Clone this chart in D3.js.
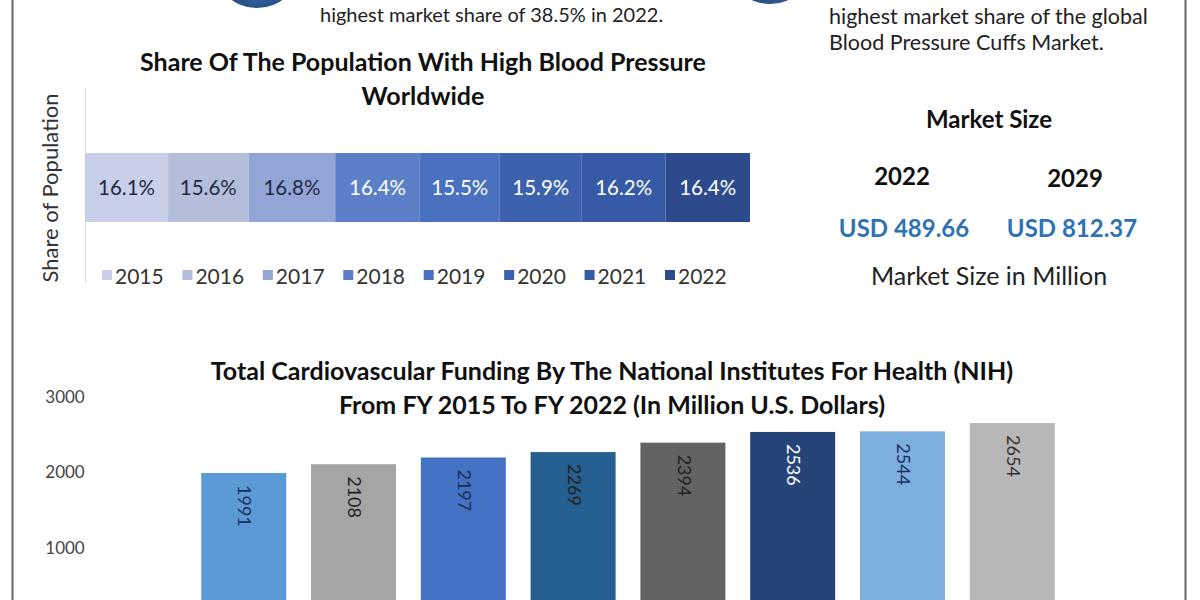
<!DOCTYPE html>
<html><head><meta charset="utf-8">
<script src="https://cdn.jsdelivr.net/npm/d3@7"></script>
<style>
html,body{margin:0;padding:0;background:#fff;}
svg{display:block;font-family:Lato,"Open Sans",sans-serif;}
</style></head>
<body><svg id="c" width="1200" height="600"></svg>
<script>
// ---- data ----
const shareYears = ["2015","2016","2017","2018","2019","2020","2021","2022"];
const shareValues = [16.1,15.6,16.8,16.4,15.5,15.9,16.2,16.4];
const shareColors = ["#c9cfe8","#b4bdd9","#93a4d6","#5b80c8","#4a70c0","#3d62ad","#365aa5","#2d4a8c"];
const shareLabelColors = ["#1f2a44","#1f2a44","#1f2a44","#ffffff","#ffffff","#ffffff","#ffffff","#ffffff"];

const fundYears = ["FY2015","FY2016","FY2017","FY2018","FY2019","FY2020","FY2021","FY2022"];
const fundValues = [1991,2108,2197,2269,2394,2536,2544,2654];
const fundColors = ["#5b9bd5","#a5a5a5","#4472c4","#255e91","#636363","#264478","#7cafdd","#b7b7b7"];
const fundLabelColors = ["#1b2f5c","#222","#1b2f5c","#222","#222","#ffffff","#1b2f5c","#333"];
const fundTicks = [1000,2000,3000];

const marketYears = ["2022","2029"];
const marketValues = ["USD 489.66","USD 812.37"];

const svg = d3.select("#c");

// frame lines
svg.append("line").attr("x1",12.5).attr("x2",12.5).attr("y1",0).attr("y2",600).attr("stroke","#666").attr("stroke-width",2);
svg.append("line").attr("x1",1185.5).attr("x2",1185.5).attr("y1",0).attr("y2",600).attr("stroke","#666").attr("stroke-width",2);

// top icons (cut circles)
const defs = svg.append("defs");
const g1 = defs.append("radialGradient").attr("id","icon").attr("cx","50%").attr("cy","70%").attr("r","60%");
g1.append("stop").attr("offset","0%").attr("stop-color","#3a6aa8");
g1.append("stop").attr("offset","100%").attr("stop-color","#1c3d70");
svg.append("circle").attr("cx",257).attr("cy",-36).attr("r",44).attr("fill","url(#icon)");
svg.append("circle").attr("cx",770).attr("cy",-40).attr("r",44).attr("fill","url(#icon)");

// top texts
svg.append("text").attr("x",320).attr("y",22).attr("font-size",20).attr("fill","#222")
  .text("highest market share of 38.5% in 2022.");
svg.append("text").attr("x",829).attr("y",24).attr("font-size",21.5).attr("fill","#222")
  .text("highest market share of the global");
svg.append("text").attr("x",829).attr("y",50).attr("font-size",21.5).attr("fill","#222")
  .text("Blood Pressure Cuffs Market.");

// ---- stacked share chart ----
const sx = d3.scaleLinear().domain([0,d3.sum(shareValues)]).range([85,750]);
const cum = d3.cumsum(shareValues);
const segs = shareValues.map((v,i)=>({year:shareYears[i],v,start:cum[i]-v,end:cum[i],i}));

svg.append("text").attr("x",423).attr("y",71).attr("text-anchor","middle").attr("font-weight","bold").attr("font-size",25).attr("fill","#111")
  .text("Share Of The Population With High Blood Pressure");
svg.append("text").attr("x",423).attr("y",105).attr("text-anchor","middle").attr("font-weight","bold").attr("font-size",25).attr("fill","#111")
  .text("Worldwide");

svg.append("text").attr("transform","translate(58,188) rotate(-90)").attr("text-anchor","middle").attr("font-size",22).attr("fill","#333")
  .text("Share of Population");
svg.append("line").attr("x1",85.5).attr("x2",85.5).attr("y1",88).attr("y2",282).attr("stroke","#d9d9d9");

svg.selectAll("rect.seg").data(segs).join("rect").attr("class","seg")
  .attr("x",d=>sx(d.start)).attr("width",d=>sx(d.end)-sx(d.start))
  .attr("y",153).attr("height",69).attr("fill",d=>shareColors[d.i]);
svg.selectAll("text.seglab").data(segs).join("text").attr("class","seglab")
  .attr("x",d=>(sx(d.start)+sx(d.end))/2).attr("y",195).attr("text-anchor","middle")
  .attr("font-size",20.5).attr("fill",d=>shareLabelColors[d.i]).text(d=>d.v.toFixed(1)+"%");

const lx = d3.scalePoint().domain(shareYears).range([102,665]);
const leg = svg.selectAll("g.leg").data(shareYears).join("g").attr("class","leg")
  .attr("transform",d=>`translate(${lx(d)},0)`);
leg.append("rect").attr("x",0).attr("y",270).attr("width",10).attr("height",10).attr("fill",(d,i)=>shareColors[i]);
leg.append("text").attr("x",13).attr("y",284).attr("font-size",21).attr("fill","#333").text(d=>d);

// ---- market size panel ----
svg.append("text").attr("x",989).attr("y",128).attr("text-anchor","middle").attr("font-weight","bold").attr("font-size",24).attr("fill","#111").text("Market Size");
const mx = d3.scalePoint().domain(marketYears).range([902,1075]);
svg.selectAll("text.my").data(marketYears).join("text").attr("class","my")
  .attr("x",d=>mx(d)).attr("y",(d,i)=>185+i*2).attr("text-anchor","middle").attr("font-weight","bold").attr("font-size",24).attr("fill","#111").text(d=>d);
svg.selectAll("text.mv").data(marketValues).join("text").attr("class","mv")
  .attr("x",(d,i)=>mx(marketYears[i])+(i?-3:2)).attr("y",237).attr("text-anchor","middle").attr("font-weight","bold").attr("font-size",24).attr("fill","#2f72b4").text(d=>d);
svg.append("text").attr("x",989).attr("y",285).attr("text-anchor","middle").attr("font-size",25).attr("fill","#222").text("Market Size in Million");

// ---- funding bar chart ----
svg.append("text").attr("x",612).attr("y",380).attr("text-anchor","middle").attr("font-weight","bold").attr("font-size",25).attr("fill","#111")
  .text("Total Cardiovascular Funding By The National Institutes For Health (NIH)");
svg.append("text").attr("x",612).attr("y",414).attr("text-anchor","middle").attr("font-weight","bold").attr("font-size",25).attr("fill","#111")
  .text("From FY 2015 To FY 2022 (In Million U.S. Dollars)");

const bx = d3.scaleBand().domain(fundYears).range([176,1080]).paddingInner(0.226).paddingOuter(0.23);
const by = d3.scaleLinear().domain([0,3000]).range([623,397]);

svg.selectAll("text.tick").data(fundTicks).join("text").attr("class","tick")
  .attr("x",65).attr("y",d=>by(d)+6).attr("text-anchor","middle").attr("font-size",17).attr("fill","#444").text(d=>d);

const bars = fundValues.map((v,i)=>({k:fundYears[i],v,i}));
svg.selectAll("rect.bar").data(bars).join("rect").attr("class","bar")
  .attr("x",d=>bx(d.k)).attr("width",bx.bandwidth()).attr("y",d=>by(d.v)).attr("height",d=>by(0)-by(d.v))
  .attr("fill",d=>fundColors[d.i]);
svg.selectAll("text.blab").data(bars).join("text").attr("class","blab")
  .attr("transform",d=>`translate(${bx(d.k)+bx.bandwidth()/2+1},${by(d.v)+12}) rotate(90)`)
  .attr("dy","0.35em").attr("font-size",18).attr("fill",d=>fundLabelColors[d.i]).text(d=>d.v);
</script></body></html>
